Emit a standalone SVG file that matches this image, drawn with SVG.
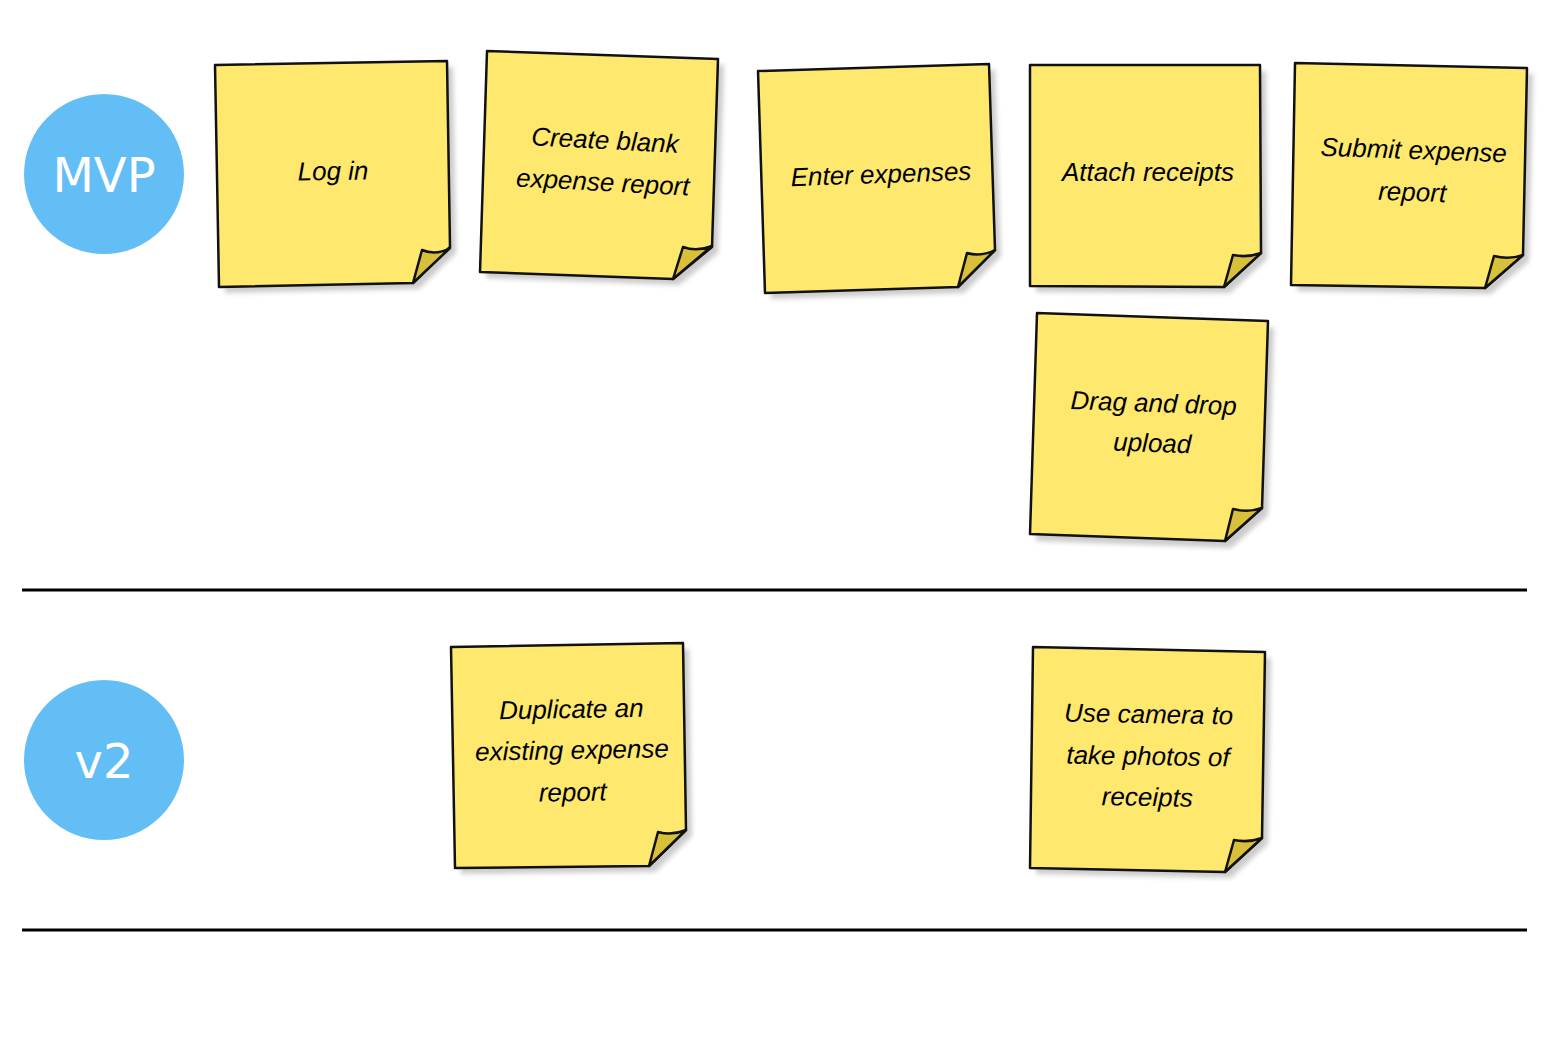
<svg xmlns="http://www.w3.org/2000/svg" width="1548" height="1040" viewBox="0 0 1548 1040">
<defs>
<filter id="blur" x="-10%" y="-10%" width="120%" height="120%"><feGaussianBlur stdDeviation="2.5"/></filter>
</defs>
<style>
.shadow{fill:#000;opacity:0.2;filter:url(#blur)}
.note{fill:#FEE86E;stroke:#111;stroke-width:2.5;stroke-linejoin:round}
.fold{fill:#D8C03A;stroke:#111;stroke-width:2.5;stroke-linejoin:round}
.t{font-family:"Liberation Sans",Arial,sans-serif;font-style:italic;font-size:26px;fill:#000;text-anchor:middle}
.badge{fill:#64BEF6}
.bt{font-family:"DejaVu Sans",sans-serif;font-size:48px;fill:#fff;text-anchor:middle}
.lane{stroke:#000;stroke-width:3}
</style>
<rect width="1548" height="1040" fill="#fff"/>
<g id="connectors">
<line class="lane" x1="22" y1="590" x2="1527" y2="590"/>
<line class="lane" x1="22" y1="930" x2="1527" y2="930"/>
</g>
<g id="badge-mvp"><circle class="badge" cx="104" cy="174" r="80"/><text class="bt" x="104" y="192">MVP</text></g>
<g id="badge-v2"><circle class="badge" cx="104" cy="760" r="80"/><text class="bt" x="104" y="778">v2</text></g>

<g id="note-login">
<path class="shadow" d="M221,71 L453,67 L456,253 L419,289 L225,293 Z"/>
<path class="note" d="M215,65 L447,61 L450,247 L413,283 L219,287 Z"/>
<path class="fold" d="M413,283 L422,250 Q436,256 450,248 Z"/>
<text class="t" x="333" y="180" transform="rotate(-1 333 172)">Log in</text>
</g>
<g id="note-create">
<path class="shadow" d="M493,57 L724,65 L718,253 L679,285 L486,278 Z"/>
<path class="note" d="M487,51 L718,59 L712,247 L673,279 L480,272 Z"/>
<path class="fold" d="M673,279 L683,247 Q697,252 712,246 Z"/>
<text class="t" transform="rotate(3 604 160)"><tspan x="604" y="149">Create blank</tspan><tspan x="604" y="191">expense report</tspan></text>
</g>
<g id="note-enter">
<path class="shadow" d="M764,77 L995,70 L1001,256 L964,293 L771,299 Z"/>
<path class="note" d="M758,71 L989,64 L995,250 L958,287 L765,293 Z"/>
<path class="fold" d="M958,287 L967,253 Q981,257 995,250 Z"/>
<text class="t" x="881" y="183" transform="rotate(-2 881 174)">Enter expenses</text>
</g>
<g id="note-attach">
<path class="shadow" d="M1036,71 L1266,71 L1267,259 L1230,293 L1036,292 Z"/>
<path class="note" d="M1030,65 L1260,65 L1261,253 L1224,287 L1030,286 Z"/>
<path class="fold" d="M1224,287 L1233,255 Q1247,258 1261,253 Z"/>
<text class="t" x="1148" y="181">Attach receipts</text>
</g>
<g id="note-submit">
<path class="shadow" d="M1301,69 L1533,74 L1529,261 L1491,294 L1297,291 Z"/>
<path class="note" d="M1295,63 L1527,68 L1523,255 L1485,288 L1291,285 Z"/>
<path class="fold" d="M1485,288 L1494,256 Q1509,260 1523,255 Z"/>
<text class="t" transform="rotate(2 1413 170)"><tspan x="1413" y="159">Submit expense</tspan><tspan x="1413" y="201">report</tspan></text>
</g>
<g id="note-drag">
<path class="shadow" d="M1043,319 L1274,328 L1268,515 L1231,548 L1036,541 Z"/>
<path class="note" d="M1037,313 L1268,321 L1262,508 L1225,541 L1030,534 Z"/>
<path class="fold" d="M1225,541 L1233,509 Q1248,513 1262,508 Z"/>
<text class="t" transform="rotate(2 1153 423)"><tspan x="1153" y="412">Drag and drop</tspan><tspan x="1153" y="452">upload</tspan></text>
</g>
<g id="note-duplicate">
<path class="shadow" d="M457,653 L689,649 L692,836 L655,872 L461,874 Z"/>
<path class="note" d="M451,647 L683,643 L686,830 L649,866 L455,868 Z"/>
<path class="fold" d="M649,866 L658,832 Q672,836 686,830 Z"/>
<text class="t" transform="rotate(-1 572 750)"><tspan x="572" y="718">Duplicate an</tspan><tspan x="572" y="759">existing expense</tspan><tspan x="572" y="801">report</tspan></text>
</g>
<g id="note-camera">
<path class="shadow" d="M1039,653 L1271,658 L1268,844 L1231,878 L1036,874 Z"/>
<path class="note" d="M1033,647 L1265,652 L1262,838 L1225,872 L1030,868 Z"/>
<path class="fold" d="M1225,872 L1234,840 Q1248,843 1262,838 Z"/>
<text class="t" transform="rotate(1 1148 756)"><tspan x="1148" y="723">Use camera to</tspan><tspan x="1148" y="765">take photos of</tspan><tspan x="1148" y="806">receipts</tspan></text>
</g>
</svg>
